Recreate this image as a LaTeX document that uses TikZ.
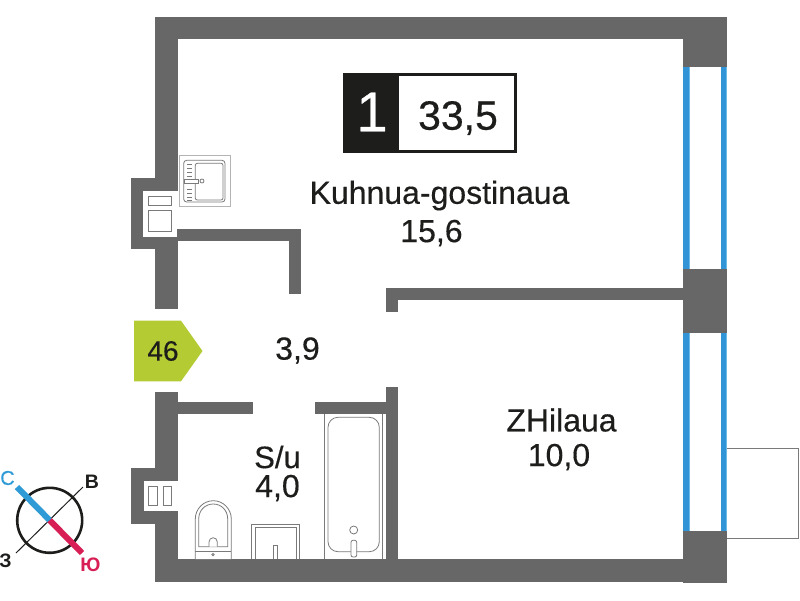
\documentclass[tikz,border=0pt]{standalone}
\usepackage{fontspec}
\setmainfont{Liberation Sans}
\newfontfamily\semib[FakeBold=0.35]{Liberation Sans}
\newfontfamily\heavyb[FakeBold=0.7]{Liberation Sans}
\definecolor{wallc}{HTML}{676767}
\definecolor{winc}{HTML}{3094D6}
\definecolor{winl}{HTML}{6DB9E8}
\definecolor{ink}{HTML}{1D1D1B}
\definecolor{cyanc}{HTML}{2F9BD6}
\definecolor{redc}{HTML}{D81F55}
\definecolor{greenc}{HTML}{B5CB33}
\definecolor{fixt}{HTML}{7A7A7A}
\definecolor{fixl}{HTML}{B4B4B4}
\tikzset{
  wall/.style={fill=wallc,draw=none},
  fixture/.style={draw=fixt,line width=0.8pt,fill=white},
  fixturelight/.style={draw=fixl,line width=0.9pt},
  label/.style={inner sep=0pt,text=ink,align=center},
  compasslabel/.style={inner sep=0pt}
}
\newcommand{\fs}[1]{\fontsize{#1}{#1}\selectfont\semib}
\newcommand{\fc}[1]{\fontsize{#1}{#1}\selectfont}
\begin{document}
\begin{tikzpicture}[x=1pt,y=-1pt]
\useasboundingbox (0,0) rectangle (800,600);
\fill[white] (0,0) rectangle (800,600);
% balcony
\draw[draw=fixt,line width=1.5pt] (727,448.5) -- (798.7,448.5) -- (798.7,538.5) -- (727,538.5);
% windows
\foreach \ya/\yb in {67/269,333/531}{
  \fill[winc] (683,\ya) rectangle (688.7,\yb);
  \fill[winl] (688.7,\ya) rectangle (689.7,\yb);
  \fill[winc] (721,\ya) rectangle (726.3,\yb);
  \fill[winl] (726.3,\ya) rectangle (727.3,\yb);
}
% walls
\fill[wall] (155,17) rectangle (727,39);
\fill[wall] (683,17) rectangle (727,67);
\fill[wall] (683,268.7) rectangle (727,333);
\fill[wall] (683,530.7) rectangle (727,583);
\fill[wall] (155,559) rectangle (727,582);
\fill[wall] (155,17) rectangle (177.5,308.5);
\fill[wall] (155,391.5) rectangle (177.5,582);
\fill[wall] (130.5,178) rectangle (177.5,249);
\fill[wall] (130.5,468) rectangle (177.5,524);
\fill[white] (143,191) rectangle (177.5,237);
\fill[white] (143.5,480.7) rectangle (177.5,511);
\fill[wall] (177,229) rectangle (301,240.7);
\fill[wall] (288.7,229) rectangle (301,294);
\fill[wall] (386,287.5) rectangle (683,299.5);
\fill[wall] (386,287.5) rectangle (398,311.7);
\fill[wall] (177,402) rectangle (252.5,414);
\fill[wall] (314.5,402) rectangle (386,414);
\fill[wall] (386,386.7) rectangle (398,559);
% vents
\draw[fixture] (148,196.3) rectangle (171.7,205);
\draw[fixture] (148,210) rectangle (171.7,231.7);
\draw[fixture] (148.3,486) rectangle (157,505.7);
\draw[fixture] (163,486) rectangle (171.7,505.7);
% kitchen sink
\draw[fixturelight] (179.3,155.7) rectangle (230,206.7);
\draw[fixture,rounded corners=3pt] (183.7,160.3) rectangle (225,202);
\draw[fixture,rounded corners=2pt] (195.3,163.3) rectangle (223,200);
\foreach \yy in {164,168.3,172.3,176.7,189.3,193.3,197.3,200}{
  \draw[fixt,line width=0.8pt] (187,\yy) -- (192,\yy);
}
\draw[fixture] (184,179.3) rectangle (198.7,183);
\draw[fixture] (202,181) circle[radius=2pt];
% toilet
\draw[fixture] (195.3,559) -- (195.3,519) .. controls (195.3,509) and (203.3,500.7) .. (213.3,500.7)
  .. controls (223.3,500.7) and (231.3,509) .. (231.3,519) -- (231.3,559);
\draw[fixture] (198.7,546.7) -- (198.7,519) .. controls (198.7,510.5) and (205,504) .. (213.3,504)
  .. controls (221.5,504) and (227.7,510.5) .. (227.7,519) -- (227.7,546.7) -- cycle;
\draw[fixture] (209,546.7) -- (209,542) .. controls (209,539.5) and (211,537.7) .. (213.2,537.7)
  .. controls (215.4,537.7) and (217.3,539.5) .. (217.3,542) -- (217.3,546.7);
\draw[fixt,line width=0.8pt] (195.3,551) -- (231.3,551);
\draw[fixture] (213,554.7) circle[radius=1.2pt];
% bathroom sink
\draw[fixture] (251.7,559) -- (251.7,524) -- (299.7,524) -- (299.7,559);
\draw[fixture] (255,559) -- (255,527.3) -- (296.3,527.3) -- (296.3,559);
\draw[fixture] (273.3,559) -- (273.3,545) -- (277.3,545) -- (277.3,559);
% bath
\draw[fixt,line width=0.8pt] (324.3,414) -- (324.3,559);
\draw[fixt,line width=0.8pt] (382.3,414) -- (382.3,559);
\draw[fixture,rounded corners=10pt] (328,417.3) rectangle (379.3,551.7);
\draw[fixture] (353.7,530) circle[radius=4pt];
\draw[fixture,rounded corners=2pt] (351,540.3) rectangle (356.7,557);
% area badge
\fill[ink] (342.7,73.3) rectangle (516.7,152.7);
\fill[white] (399.3,75.7) rectangle (514.3,150);
\node[label,text=white,font=\fc{56}\heavyb] (rooms) at (372,112) {1};
\node[label,font=\fs{41}] (total) at (458,118) {33,5};
% rooms
\node[label,font=\fs{32}] (kitchen) at (439.5,195.5) {Kuhnua-gostinaua};
\node[label,font=\fs{32}] (kitchenarea) at (431.5,233) {15,6};
\node[label,font=\fs{32}] (halla) at (297.5,350.5) {3,9};
\node[label,font=\fs{31}] (bath) at (277.5,457) {S/u};
\node[label,font=\fs{32}] (batha) at (277.5,488) {4,0};
\node[label,font=\fs{32}] (bed) at (561.5,420) {ZHilaua};
\node[label,font=\fs{32}] (beda) at (559,457) {10,0};
% entrance flag
\fill[greenc] (134,320.7) -- (181,320.7) -- (202.5,351) -- (181,381.3) -- (134,381.3) -- cycle;
\node[label,font=\fs{28}] (flat) at (163,351) {46};
% compass
\coordinate (cc) at (49.7,520.3);
\coordinate (nw) at (17,487);
\coordinate (se) at (82,553);
\coordinate (sw) at (16,553);
\coordinate (ne) at (83,487);
\draw[ink,line width=2.6pt] (cc) circle[radius=32.5pt];
\draw[ink,line width=1pt] (sw) -- (ne);
\draw[cyanc,line width=6pt] (nw) -- (cc);
\draw[redc,line width=6pt] (cc) -- (se);
\node[compasslabel,text=cyanc,font=\fc{20}\semib] (north) at (7.5,478) {С};
\node[compasslabel,text=ink,font=\fc{19.5}\bfseries] (east) at (92,482) {В};
\node[compasslabel,text=ink,font=\fc{19.5}\bfseries] (west) at (5.5,560.5) {З};
\node[compasslabel,text=redc,font=\fc{19.5}\bfseries] (south) at (90.5,565) {Ю};
\end{tikzpicture}
\end{document}
